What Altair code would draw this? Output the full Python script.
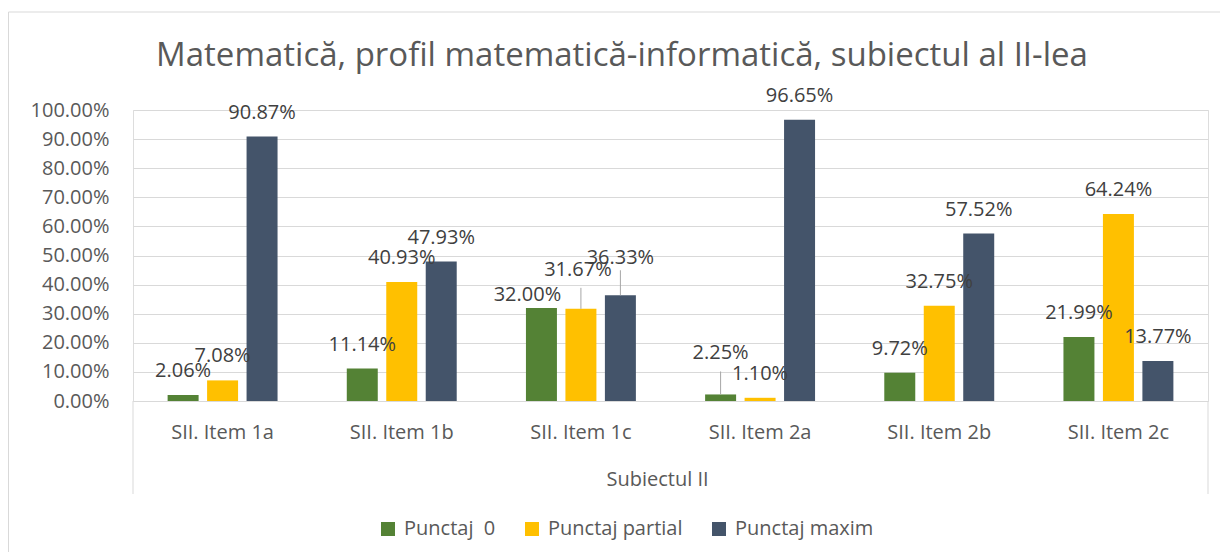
import altair as alt
import pandas as pd

categories = ["SII. Item 1a", "SII. Item 1b", "SII. Item 1c", "SII. Item 2a", "SII. Item 2b", "SII. Item 2c"]
series = ["Punctaj\u00a0 0", "Punctaj partial", "Punctaj maxim"]
punctaj_0 = [0.0206, 0.1114, 0.3200, 0.0225, 0.0972, 0.2199]
punctaj_partial = [0.0708, 0.4093, 0.3167, 0.0110, 0.3275, 0.6424]
punctaj_maxim = [0.9087, 0.4793, 0.3633, 0.9665, 0.5752, 0.1377]
colors = ["#548235", "#FFC000", "#44546A"]
title_text = "Matematică, profil matematică-informatică, subiectul al II-lea"

rows = []
for s, vals in zip(series, [punctaj_0, punctaj_partial, punctaj_maxim]):
    for c, v in zip(categories, vals):
        rows.append({"cat": c, "series": s, "value": v, "key": c + "|" + s})
df = pd.DataFrame(rows)

FONT = "Open Sans"
W, H = 1075, 291

# manually moved data labels (as in the source chart): key -> (dx, dy, leader length)
label_nudges = {
    "SII. Item 1c|" + series[0]: (-14, -13, 0),
    "SII. Item 1c|" + series[1]: (-3, -39, 21),
    "SII. Item 1c|" + series[2]: (0, -37, 25),
    "SII. Item 2a|" + series[0]: (0, -41, 23),
}

x_enc = alt.X(
    "cat:N", sort=categories,
    scale=alt.Scale(paddingInner=0.339, paddingOuter=0.1695),
    axis=alt.Axis(title="Subiectul II", labelAngle=0, ticks=False, domainColor="#D9D9D9",
                  domainWidth=1, labelFont=FONT, labelFontSize=20, labelColor="#595959",
                  labelBaseline="middle", labelPadding=31,
                  titleFont=FONT, titleFontSize=20, titleFontWeight="normal", titleColor="#595959",
                  titleX=524, titleY=78, titleBaseline="middle", titleAlign="center"),
)
xo_enc = alt.XOffset("series:N", sort=series, scale=alt.Scale(paddingInner=0.215, paddingOuter=0.1075))
y_enc = alt.Y(
    "value:Q", scale=alt.Scale(domain=[0, 1]),
    axis=alt.Axis(title=None, format=".2%", values=[i / 10 for i in range(11)], ticks=False,
                  domain=False, gridColor="#D9D9D9", gridWidth=1, labelFont=FONT,
                  labelFontSize=20, labelColor="#595959", labelPadding=24),
)

base = alt.Chart(df).encode(x=x_enc, xOffset=xo_enc, y=y_enc)

bars = base.mark_bar().encode(
    color=alt.Color("series:N", sort=series, scale=alt.Scale(domain=series, range=colors),
                    legend=alt.Legend(orient="none", legendX=245, legendY=409, direction="horizontal",
                                      title=None, symbolType="square", symbolSize=196,
                                      symbolStrokeWidth=0, labelFont=FONT, labelFontSize=20,
                                      labelColor="#595959", columnPadding=26, labelOffset=6))
)

nudged = list(label_nudges.keys())
labels = base.mark_text(font=FONT, fontSize=20, color="#404040", baseline="middle", dy=-24).encode(
    text=alt.Text("value:Q", format=".2%")
).transform_filter(~alt.FieldOneOfPredicate(field="key", oneOf=nudged))

layers = [bars, labels]
for k, (dx, dy, lead) in label_nudges.items():
    layers.append(
        base.mark_text(font=FONT, fontSize=20, color="#404040", baseline="middle", dx=dx, dy=dy)
        .encode(text=alt.Text("value:Q", format=".2%"))
        .transform_filter(alt.datum.key == k)
    )
    if lead:
        layers.append(
            base.mark_rule(color="#A6A6A6", strokeWidth=1, y2Offset=-lead)
            .encode(y2="value:Q")
            .transform_filter(alt.datum.key == k)
        )

one = pd.DataFrame({"a": [0]})
side_lines = [
    alt.Chart(one).mark_rule(color="#D9D9D9", strokeWidth=1).encode(
        x=alt.value(xv), y=alt.value(H), y2=alt.value(384))
    for xv in (0, W)
]
border = alt.Chart(one).mark_rect(fillOpacity=0, stroke="#D9D9D9", strokeWidth=1).encode(
    x=alt.value(-124.5), x2=alt.value(1200), y=alt.value(-98), y2=alt.value(700))
title = alt.Chart(one).mark_text(font=FONT, fontSize=33, color="#595959", align="center",
                                 baseline="alphabetic").encode(
    x=alt.value(489), y=alt.value(-44), text=alt.value(title_text))

chart = alt.layer(border, title, *side_lines, *layers).properties(
    width=W, height=H,
    autosize=alt.AutoSizeParams(type="none"),
    padding={"left": 125, "top": 102, "right": 12, "bottom": 151},
).configure_view(stroke=None).configure(background="white")

chart.save("out.html", embed_options={"renderer": "svg", "actions": False})
